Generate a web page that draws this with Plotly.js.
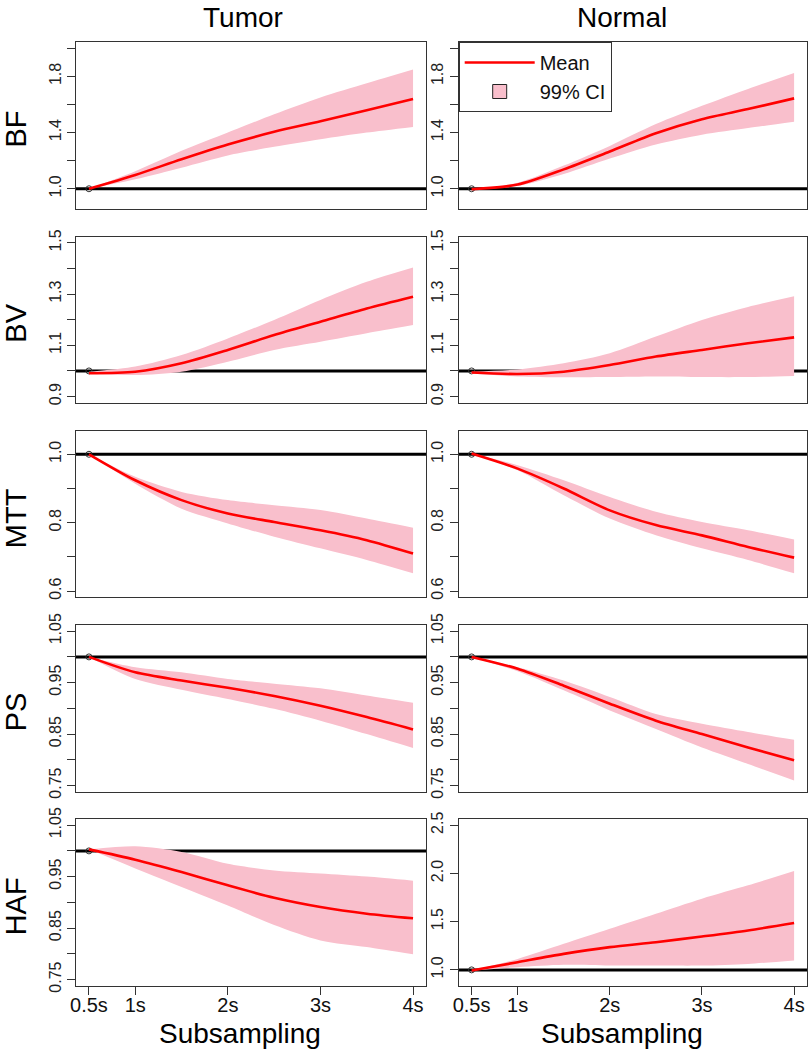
<!DOCTYPE html>
<html><head><meta charset="utf-8">
<script src="https://cdn.plot.ly/plotly-3.0.1.min.js"></script>
<style>html,body{margin:0;padding:0;background:#fff}#chart{width:808px;height:1050px}</style>
</head><body><div id="chart"></div>
<script>
// ---------- data ----------
const subsampling = [0.5, 1, 1.5, 2, 2.5, 3, 3.5, 4];
const xTickVals = [0.5, 1, 2, 3, 4];
const xTickText = ['0.5s', '1s', '2s', '3s', '4s'];
const columns = ['Tumor', 'Normal'];
const parameters = ['BF', 'BV', 'MTT', 'PS', 'HAF'];
const refX = [0.5], refY = [1];
const baseline = 1;

const bfTumorMean  = [1.000, 1.098, 1.210, 1.315, 1.405, 1.480, 1.558, 1.638];
const bfTumorUpper = [1.000, 1.125, 1.270, 1.400, 1.530, 1.650, 1.750, 1.848];
const bfTumorLower = [1.000, 1.067, 1.150, 1.237, 1.298, 1.352, 1.400, 1.440];
const bfNormalMean  = [0.997, 1.030, 1.138, 1.265, 1.395, 1.495, 1.567, 1.643];
const bfNormalUpper = [0.997, 1.043, 1.165, 1.305, 1.460, 1.590, 1.710, 1.824];
const bfNormalLower = [0.997, 1.020, 1.105, 1.215, 1.315, 1.385, 1.432, 1.476];

const bvTumorMean  = [0.991, 0.997, 1.030, 1.082, 1.140, 1.192, 1.244, 1.290];
const bvTumorUpper = [0.997, 1.017, 1.062, 1.127, 1.199, 1.277, 1.348, 1.404];
const bvTumorLower = [0.990, 0.984, 0.997, 1.036, 1.082, 1.114, 1.147, 1.179];
const bvNormalMean  = [0.994, 0.988, 0.997, 1.023, 1.056, 1.082, 1.108, 1.131];
const bvNormalUpper = [0.997, 1.006, 1.030, 1.069, 1.134, 1.199, 1.250, 1.292];
const bvNormalLower = [0.990, 0.978, 0.975, 0.976, 0.978, 0.976, 0.976, 0.980];

const mttTumorMean  = [1.000, 0.924, 0.866, 0.827, 0.802, 0.778, 0.749, 0.710];
const mttTumorUpper = [1.000, 0.934, 0.890, 0.866, 0.851, 0.837, 0.812, 0.785];
const mttTumorLower = [1.000, 0.914, 0.841, 0.798, 0.759, 0.725, 0.691, 0.652];
const mttNormalMean  = [1.002, 0.958, 0.900, 0.836, 0.793, 0.763, 0.729, 0.698];
const mttNormalUpper = [1.002, 0.968, 0.924, 0.875, 0.832, 0.802, 0.778, 0.751];
const mttNormalLower = [1.002, 0.953, 0.880, 0.812, 0.763, 0.725, 0.691, 0.652];

const psTumorMean  = [1.000, 0.970, 0.954, 0.940, 0.924, 0.905, 0.883, 0.859];
const psTumorUpper = [1.000, 0.980, 0.970, 0.957, 0.948, 0.939, 0.925, 0.911];
const psTumorLower = [1.000, 0.957, 0.936, 0.918, 0.899, 0.876, 0.850, 0.823];
const psNormalMean  = [1.000, 0.977, 0.944, 0.909, 0.876, 0.850, 0.824, 0.799];
const psNormalUpper = [1.000, 0.980, 0.954, 0.922, 0.889, 0.870, 0.854, 0.839];
const psNormalLower = [1.000, 0.972, 0.935, 0.896, 0.860, 0.824, 0.792, 0.760];

const hafTumorMean  = [1.003, 0.983, 0.959, 0.933, 0.909, 0.891, 0.878, 0.869];
const hafTumorUpper = [1.003, 1.009, 0.998, 0.975, 0.962, 0.956, 0.950, 0.942];
const hafTumorLower = [1.003, 0.966, 0.930, 0.894, 0.856, 0.826, 0.813, 0.799];
const hafNormalMean  = [0.993, 1.080, 1.166, 1.236, 1.287, 1.346, 1.409, 1.485];
const hafNormalUpper = [0.993, 1.114, 1.270, 1.426, 1.582, 1.738, 1.876, 2.025];
const hafNormalLower = [0.993, 1.028, 1.052, 1.045, 1.045, 1.045, 1.062, 1.097];

// y-axis tick values and labels
const bfTicks  = [1.0, 1.2, 1.4, 1.6, 1.8, 2.0];
const bfLabels = ['1.0', '', '1.4', '', '1.8', ''];
const bvTicks  = [0.9, 1.0, 1.1, 1.2, 1.3, 1.4, 1.5];
const bvLabels = ['0.9', '', '1.1', '', '1.3', '', '1.5'];
const mttTicks  = [0.6, 0.7, 0.8, 0.9, 1.0];
const mttLabels = ['0.6', '', '0.8', '', '1.0'];
const psTicks  = [0.75, 0.80, 0.85, 0.90, 0.95, 1.00, 1.05];
const psLabels = ['0.75', '', '0.85', '', '0.95', '', '1.05'];
const hafNTicks  = [1.0, 1.5, 2.0, 2.5];
const hafNLabels = ['1.0', '1.5', '2.0', '2.5'];

// y limits of each panel
const bfYlim = [0.9, 2.0];
const bvYlim = [0.9, 1.5];
const mttYlim = [0.6, 1.05];
const psYlim = [0.75, 1.05];
const hafTYlim = [0.75, 1.05];
const hafNYlim = [0.9, 2.5];

// ---------- build ----------
const panels = [
  {mean: bfTumorMean, up: bfTumorUpper, lo: bfTumorLower, ticks: bfTicks, labels: bfLabels, ylim: bfYlim},
  {mean: bfNormalMean, up: bfNormalUpper, lo: bfNormalLower, ticks: bfTicks, labels: bfLabels, ylim: bfYlim},
  {mean: bvTumorMean, up: bvTumorUpper, lo: bvTumorLower, ticks: bvTicks, labels: bvLabels, ylim: bvYlim},
  {mean: bvNormalMean, up: bvNormalUpper, lo: bvNormalLower, ticks: bvTicks, labels: bvLabels, ylim: bvYlim},
  {mean: mttTumorMean, up: mttTumorUpper, lo: mttTumorLower, ticks: mttTicks, labels: mttLabels, ylim: mttYlim},
  {mean: mttNormalMean, up: mttNormalUpper, lo: mttNormalLower, ticks: mttTicks, labels: mttLabels, ylim: mttYlim},
  {mean: psTumorMean, up: psTumorUpper, lo: psTumorLower, ticks: psTicks, labels: psLabels, ylim: psYlim},
  {mean: psNormalMean, up: psNormalUpper, lo: psNormalLower, ticks: psTicks, labels: psLabels, ylim: psYlim},
  {mean: hafTumorMean, up: hafTumorUpper, lo: hafTumorLower, ticks: psTicks, labels: psLabels, ylim: hafTYlim},
  {mean: hafNormalMean, up: hafNormalUpper, lo: hafNormalLower, ticks: hafNTicks, labels: hafNLabels, ylim: hafNYlim}
];

const W = 808, H = 1050;
const FONT = 'Liberation Sans, Arial, sans-serif';
const colPx = [[76, 426], [458.7, 807]];
const rowPx = [[42, 209], [236.7, 402.7], [431, 597.3], [625, 791.7], [819, 985.7]];
const PINK = '#F9BFCC', RED = '#FF0000', FRAME = '#333333';

const traces = [];
const layout = {
  width: W, height: H,
  margin: {l: 0, r: 0, t: 0, b: 0},
  paper_bgcolor: '#fff', plot_bgcolor: '#fff',
  showlegend: true,
  font: {family: FONT, color: '#111'},
  shapes: [], annotations: [],
  legend: {
    x: colPx[1][0] / W, y: 1 - rowPx[0][0] / H, xanchor: 'left', yanchor: 'top',
    bgcolor: '#fff', bordercolor: FRAME, borderwidth: 1, traceorder: 'normal',
    font: {family: FONT, size: 20, color: '#111'},
    itemwidth: 70
  }
};

const xr = [0.5 - 3.5 * 0.04, 4 + 3.5 * 0.04];

panels.forEach((p, i) => {
  const row = Math.floor(i / 2), col = i % 2;
  const k = i === 0 ? '' : String(i + 1);
  const xa = 'x' + k, ya = 'y' + k;
  const ext = (p.ylim[1] - p.ylim[0]) * 0.04;
  const isBottom = row === 4;

  layout['xaxis' + k] = {
    domain: [colPx[col][0] / W, colPx[col][1] / W],
    anchor: ya, range: xr, showgrid: false, zeroline: false,
    showline: true, mirror: true, linecolor: FRAME, linewidth: 1,
    ticks: isBottom ? 'outside' : '', ticklen: 8, tickcolor: FRAME, tickwidth: 1,
    tickmode: 'array', tickvals: xTickVals, ticktext: xTickText, ticklabelstandoff: -7,
    showticklabels: isBottom, tickfont: {family: FONT, size: 20, color: '#111'}
  };
  layout['yaxis' + k] = {
    domain: [1 - rowPx[row][1] / H, 1 - rowPx[row][0] / H],
    anchor: xa, range: [p.ylim[0] - ext, p.ylim[1] + ext],
    showgrid: false, zeroline: false,
    showline: true, mirror: true, linecolor: FRAME, linewidth: 1,
    ticks: 'outside', ticklen: 8, tickcolor: FRAME, tickwidth: 1,
    tickmode: 'array', tickvals: p.ticks, ticktext: p.labels,
    tickangle: -90, tickfont: {family: FONT, size: 16, color: '#222'}
  };

  // baseline at 1 (drawn under the band)
  layout.shapes.push({
    type: 'line', xref: xa + ' domain', yref: ya, x0: 0, x1: 1, y0: baseline, y1: baseline,
    line: {color: '#000', width: 3}, layer: 'below'
  });

  traces.push({
    x: refX, y: refY, xaxis: xa, yaxis: ya, mode: 'markers', showlegend: false, hoverinfo: 'skip',
    marker: {symbol: 'circle-open', size: 6, color: FRAME, line: {width: 1}}
  });
  traces.push({
    x: subsampling, y: p.lo, xaxis: xa, yaxis: ya, mode: 'lines', showlegend: false,
    line: {width: 0, shape: 'spline', smoothing: 0.8}, hoverinfo: 'skip'
  });
  traces.push({
    x: subsampling, y: p.up, xaxis: xa, yaxis: ya, mode: 'lines', showlegend: false,
    fill: 'tonexty', fillcolor: PINK,
    line: {width: 0, shape: 'spline', smoothing: 0.8}, hoverinfo: 'skip'
  });
  traces.push({
    x: subsampling, y: p.mean, xaxis: xa, yaxis: ya, mode: 'lines', name: 'Mean',
    showlegend: i === 1,
    line: {color: RED, width: 2.6, shape: 'spline', smoothing: 0.8}
  });
});

// legend entry for the confidence band (square key, as in the original)
traces.push({
  x: [null], y: [null], xaxis: 'x2', yaxis: 'y2', mode: 'markers', name: '99% CI',
  showlegend: true,
  marker: {symbol: 'square', size: 14, color: PINK, line: {color: '#222', width: 1}}
});

// column titles and x-axis titles
columns.forEach((c, j) => {
  layout.annotations.push({
    text: c, xref: 'paper', yref: 'paper', x: [243, 622][j] / W, y: 1 - 17 / H,
    xanchor: 'center', yanchor: 'middle', showarrow: false,
    font: {family: FONT, size: 28, color: '#000'}
  });
  layout.annotations.push({
    text: 'Subsampling', xref: 'paper', yref: 'paper', x: [240, 622][j] / W, y: 1 - 1033 / H,
    xanchor: 'center', yanchor: 'middle', showarrow: false,
    font: {family: FONT, size: 28, color: '#000'}
  });
});
// row labels
parameters.forEach((r, i) => {
  const mid = (rowPx[i][0] + rowPx[i][1]) / 2 + 4;
  layout.annotations.push({
    text: r, xref: 'paper', yref: 'paper', x: 16 / W, y: 1 - mid / H,
    xanchor: 'center', yanchor: 'middle', textangle: -90, showarrow: false,
    font: {family: FONT, size: 29, color: '#000'}
  });
});

Plotly.newPlot('chart', traces, layout, {staticPlot: true, displayModeBar: false});
</script></body></html>
